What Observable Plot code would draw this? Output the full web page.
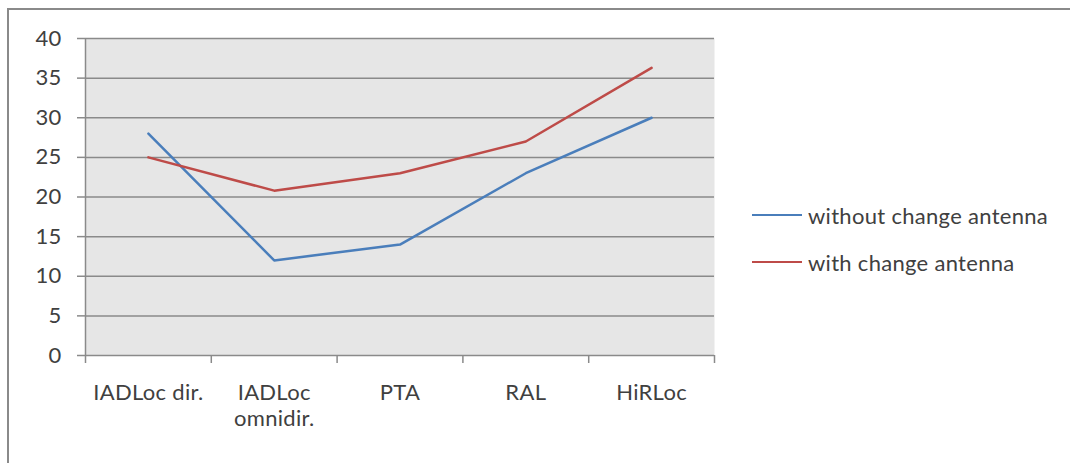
<!DOCTYPE html>
<html>
<head>
<meta charset="utf-8">
<script src="https://cdn.jsdelivr.net/npm/d3@7"></script>
<script src="https://cdn.jsdelivr.net/npm/@observablehq/plot@0.6"></script>
<style>
  html, body { margin: 0; padding: 0; background: #fff; }
  #wrap { position: relative; width: 1070px; height: 463px; overflow: hidden; font-family: Lato, "Open Sans", sans-serif; }
  #frame { position: absolute; left: 7px; top: 8px; width: 1200px; height: 600px; border-left: 2px solid #8a8a8a; border-top: 2px solid #8a8a8a; pointer-events: none; }
  #legend { position: absolute; left: 752px; top: 199px; color: #404040; font-size: 22px; letter-spacing: 0.3px; }
  .item { display: flex; align-items: center; height: 32px; margin-bottom: 15px; }
  .sw { width: 50px; height: 0; border-top: 2.5px solid; margin-right: 6px; }
</style>
</head>
<body>
<div id="wrap">
  <div id="chart"></div>
  <div id="frame"></div>
  <div id="legend"></div>
</div>
<script>
const categories = ["IADLoc dir.", "IADLoc\nomnidir.", "PTA", "RAL", "HiRLoc"];
const withoutChange = [28, 12, 14, 23, 30];
const withChange = [25, 20.8, 23, 27, 36.3];
const seriesNames = ["without change antenna", "with change antenna"];
const seriesColors = ["#4a7ebb", "#be4b48"];
const yTicks = [0, 5, 10, 15, 20, 25, 30, 35, 40];

const idx = categories.map((_, i) => i);
const boundaries = [...idx.map(i => i - 0.5), categories.length - 0.5];
const rows = [
  ...idx.map(i => ({i, v: withoutChange[i], s: seriesNames[0]})),
  ...idx.map(i => ({i, v: withChange[i], s: seriesNames[1]}))
];

const chart = Plot.plot({
  width: 1070,
  height: 463,
  marginLeft: 85,
  marginRight: 356,
  marginTop: 38,
  marginBottom: 108,
  style: {fontFamily: "Lato, 'Open Sans', sans-serif", background: "transparent", letterSpacing: "0.3px"},
  x: {type: "linear", domain: [-0.5, categories.length - 0.5], axis: null},
  y: {domain: [0, 40], axis: null},
  color: {domain: seriesNames, range: seriesColors},
  marks: [
    Plot.frame({fill: "#e6e6e6", stroke: "none"}),
    Plot.ruleY(yTicks, {stroke: "#8a8a8a", strokeWidth: 1.5}),
    Plot.ruleX([boundaries[0]], {y1: 0, y2: 40, stroke: "#8a8a8a", strokeWidth: 1.5}),
    Plot.axisY(yTicks, {label: null, tickSize: 8, tickPadding: 16, stroke: "#8a8a8a", strokeWidth: 1.5, fill: "#404040", fontSize: 22, tickFormat: d => String(d)}),
    Plot.axisX(boundaries, {label: null, tickSize: 8, stroke: "#8a8a8a", strokeWidth: 1.5, tickFormat: () => ""}),
    Plot.text(idx, {x: d => d, frameAnchor: "bottom", dy: 27, lineAnchor: "top", text: d => categories[d], fill: "#404040", fontSize: 22, lineHeight: 1.15}),
    Plot.line(rows, {x: "i", y: "v", z: "s", stroke: "s", strokeWidth: 2.5})
  ]
});
document.getElementById("chart").appendChild(chart);

const legend = document.getElementById("legend");
seriesNames.forEach((name, k) => {
  const item = document.createElement("div");
  item.className = "item";
  const sw = document.createElement("span");
  sw.className = "sw";
  sw.style.borderColor = seriesColors[k];
  const t = document.createElement("span");
  t.textContent = name;
  item.appendChild(sw);
  item.appendChild(t);
  legend.appendChild(item);
});
</script>
</body>
</html>
